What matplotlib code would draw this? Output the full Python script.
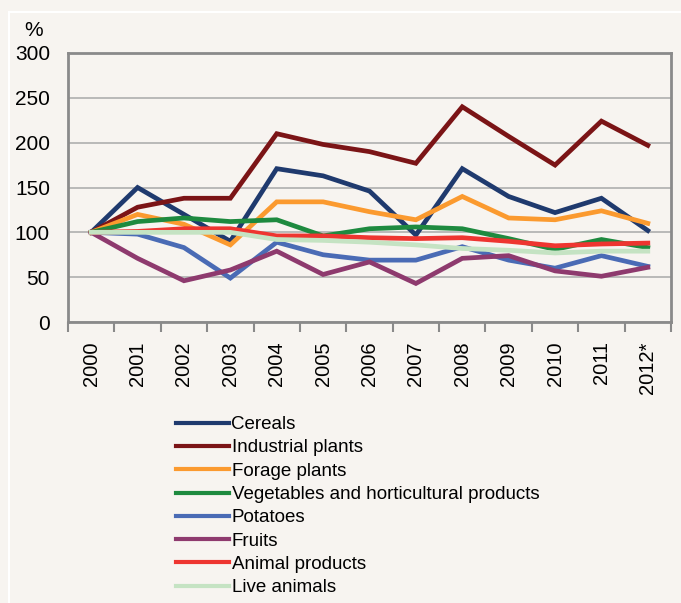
import matplotlib
matplotlib.use('Agg')
import matplotlib.pyplot as plt
from matplotlib.lines import Line2D

years = ['2000', '2001', '2002', '2003', '2004', '2005', '2006',
         '2007', '2008', '2009', '2010', '2011', '2012*']

cereals = [100, 150, 120, 90, 171, 163, 146, 97, 171, 140, 122, 138, 102]
industrial = [100, 128, 138, 138, 210, 198, 190, 177, 240, 207, 175, 224, 197]
forage = [100, 120, 109, 86, 134, 134, 123, 114, 140, 116, 114, 124, 110]
vegetables = [100, 112, 116, 112, 114, 96, 104, 106, 104, 93, 81, 92, 83]
potatoes = [100, 98, 83, 49, 89, 75, 69, 69, 84, 69, 60, 74, 62]
fruits = [100, 71, 46, 58, 79, 53, 67, 43, 71, 74, 57, 51, 61]
animal = [100, 101, 104, 104, 96, 96, 94, 93, 94, 90, 85, 87, 88]
live = [100, 100, 100, 100, 92, 91, 89, 86, 82, 80, 77, 79, 79]

series = [
    ('Cereals', cereals, '#1f3a6e'),
    ('Industrial plants', industrial, '#7b1416'),
    ('Forage plants', forage, '#fb9a2f'),
    ('Vegetables and horticultural products', vegetables, '#1e8a3f'),
    ('Potatoes', potatoes, '#4a6bb5'),
    ('Fruits', fruits, '#8e3a6e'),
    ('Animal products', animal, '#ee3530'),
    ('Live animals', live, '#c5e3c3'),
]

bg = '#f7f4f0'
plt.rcParams['font.family'] = ['Liberation Sans', 'DejaVu Sans']

fig = plt.figure(figsize=(6.81, 6.03), dpi=100, facecolor=bg)
ax = fig.add_axes([68 / 681, 1 - 322 / 603, 603 / 681, 269 / 603])
ax.set_facecolor(bg)

x = list(range(len(years)))
handles = []
for name, vals, col in series:
    ax.plot(x, vals, color=col, linewidth=3.4, solid_joinstyle='miter', zorder=3)
    handles.append(Line2D([], [], color=col, linewidth=3, label=name))

ax.set_xlim(-0.5, len(years) - 0.5)
ax.set_ylim(0, 300)
ax.set_yticks(range(0, 301, 50))
ax.yaxis.grid(True, color='#b4b4b4', linewidth=1.3, zorder=1)
ax.tick_params(axis='y', length=0, labelsize=15, pad=13)

ax.set_xticks(x)
ax.set_xticklabels(years, rotation=90, fontsize=14.5)
ax.tick_params(axis='x', length=0, pad=14)
ax.set_xticks([i - 0.5 for i in range(len(years) + 1)], minor=True)
ax.tick_params(axis='x', which='minor', length=7, width=1.5, color='#8a8a8a', direction='out')

for sp in ax.spines.values():
    sp.set_color('#8a8a8a')
    sp.set_linewidth(2)

fig.text(24 / 681, 1 - 31 / 603, '%', fontsize=15, va='center', ha='left')

# light frame lines of the panel
fig.add_artist(Line2D([9 / 681, 1], [1 - 12 / 603, 1 - 12 / 603], color='white', linewidth=1.5))
fig.add_artist(Line2D([9 / 681, 9 / 681], [0, 1 - 12 / 603], color='white', linewidth=1.5))

fig.legend(handles=handles, loc='upper left', bbox_to_anchor=(176 / 681, 1 - 416 / 603),
           frameon=False, fontsize=13.5, handlelength=2.8, handletextpad=0.16,
           labelspacing=0.33, borderpad=0, borderaxespad=0)

fig.savefig('out.png', dpi=100, facecolor=bg)
